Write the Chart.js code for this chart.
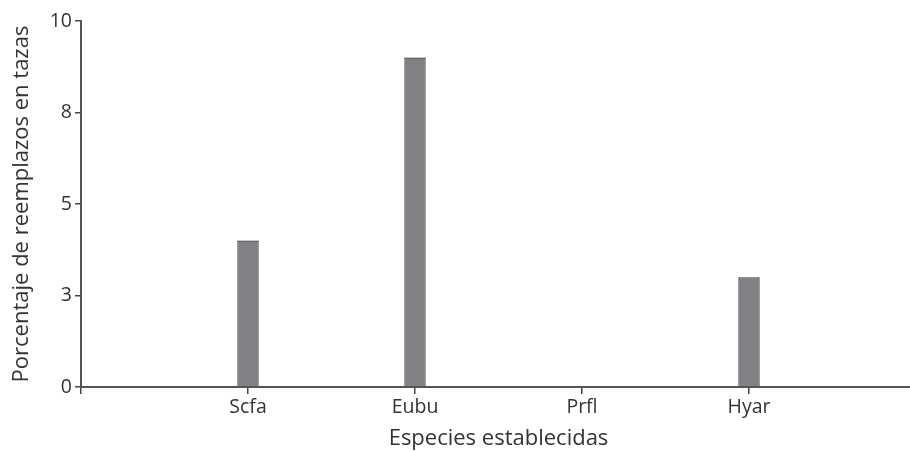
<!DOCTYPE html>
<html>
<head>
<meta charset="utf-8">
<script src="https://cdn.jsdelivr.net/npm/chart.js@4/dist/chart.umd.min.js"></script>
<style>
  html, body { margin: 0; padding: 0; background: #fff; overflow: hidden; }
  #wrap { width: 918px; height: 452px; position: relative; }
</style>
</head>
<body>
<div id="wrap"><canvas id="c"></canvas></div>
<script>
// Species on the x axis and their replacement percentages
const species = ['Scfa', 'Eubu', 'Prfl', 'Hyar'];
const replacementPct = [4.0, 9.0, 0, 3.0];
const yTickValues = [0, 2.5, 5, 7.5, 10];

// Species sit at positions 1..4 on a 0..5 axis, leaving room at both ends
const points = species.map((name, i) => ({ x: i + 1, y: replacementPct[i] }));

const ink = '#333333';
const axisColor = '#555555';
const fontFamily = '"Open Sans", "Noto Sans", sans-serif';

new Chart(document.getElementById('c'), {
  type: 'bar',
  data: {
    datasets: [{
      data: points,
      backgroundColor: '#808185',
      borderColor: '#2e2e2e',
      borderWidth: 1.2,
      borderSkipped: 'bottom',
      categoryPercentage: 1,
      barPercentage: 0.128
    }]
  },
  options: {
    responsive: true,
    maintainAspectRatio: false,
    animation: false,
    layout: { padding: { top: 21, right: 0, bottom: 0, left: 0 } },
    plugins: { legend: { display: false }, tooltip: { enabled: false } },
    scales: {
      x: {
        type: 'linear',
        min: 0,
        max: species.length + 1,
        offset: false,
        grid: { offset: false, drawOnChartArea: false, drawTicks: true, tickLength: 7, tickColor: '#444444', tickWidth: 1.5, color: axisColor, lineWidth: 1.5 },
        border: { display: true, color: axisColor, width: 2 },
        ticks: {
          stepSize: 1,
          color: ink,
          font: { family: fontFamily, size: 19.5 },
          padding: 2,
          maxRotation: 0,
          autoSkip: false,
          callback: v => species[v - 1] || ''
        },
        title: {
          display: true,
          text: 'Especies establecidas',
          color: ink,
          font: { family: fontFamily, size: 22 },
          padding: { top: 0, bottom: 0 }
        },
        afterFit(scale) { scale.height = 65; }
      },
      y: {
        min: 0,
        max: 10,
        afterBuildTicks(scale) { scale.ticks = yTickValues.map(v => ({ value: v })); },
        grid: { drawOnChartArea: false, drawTicks: true, tickLength: 6, tickColor: '#444444', tickWidth: 1.5, color: axisColor, lineWidth: 1.5 },
        border: { display: true, color: axisColor, width: 2 },
        ticks: {
          color: ink,
          font: { family: fontFamily, size: 19.5 },
          padding: 3,
          callback: v => String(Math.round(v))
        },
        title: {
          display: true,
          text: 'Porcentaje de reemplazos en tazas',
          color: ink,
          font: { family: fontFamily, size: 22 },
          padding: { top: 9, bottom: 0 }
        },
        afterFit(scale) { scale.width = 81; }
      }
    }
  }
});
</script>
</body>
</html>
